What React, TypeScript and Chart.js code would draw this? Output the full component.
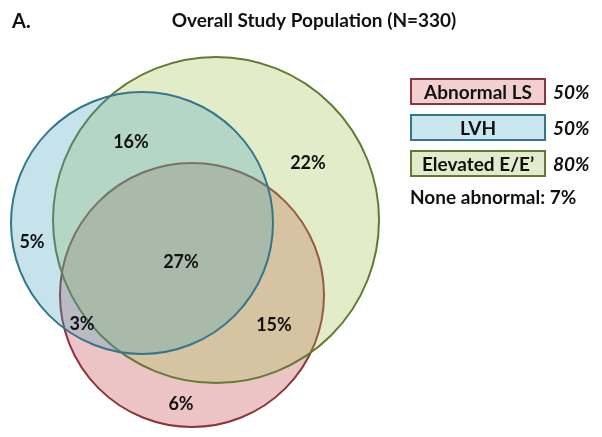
import React, { useEffect, useRef } from "react";
import { Chart, registerables } from "chart.js";

Chart.register(...registerables);

// ---- data (sets in drawing order: bottom to top) ----
const setNames = ["Abnormal LS", "Elevated E/E\u2019", "LVH"];
const setPercents = ["50%", "80%", "50%"];
const setCenterX = [192, 216, 142];
const setCenterY = [295, 220, 223];
const setRadius = [132, 163, 131];

const regionLabels = ["16%", "22%", "5%", "27%", "3%", "15%", "6%"];
const regionX = [131, 308, 32, 181, 82, 274, 181];
const regionY = [142, 163, 242, 262, 324, 325, 404];

const legendOrder = [0, 2, 1];
const noneLabel = "None abnormal: 7%";
const titleText = "Overall Study Population (N=330)";
const panelLabel = "A.";

const fills = ["rgb(237,196,198)", "rgba(162,192,75,0.3)", "rgba(65,162,192,0.3)"];
const borders = ["rgb(140,52,58)", "rgb(98,122,52)", "rgb(52,118,140)"];
const legendFills = ["rgb(243,208,208)", "rgb(226,236,204)", "rgb(202,231,240)"];

const FONT = "Lato, 'Open Sans', sans-serif";

export default function App() {
  const ref = useRef<HTMLCanvasElement | null>(null);

  useEffect(() => {
    if (!ref.current) return;
    const textPlugin = {
      id: "texts",
      afterDraw(chart: any) {
        const ctx = chart.ctx as CanvasRenderingContext2D;
        const xs = chart.scales.x;
        const ys = chart.scales.y;
        ctx.save();
        ctx.fillStyle = "#111";
        ctx.textBaseline = "middle";
        // title
        ctx.font = `bold 19px ${FONT}`;
        ctx.textAlign = "center";
        ctx.fillText(titleText, 314, 21);
        ctx.font = `bold 20px ${FONT}`;
        ctx.textAlign = "left";
        ctx.fillText(panelLabel, 12, 22);
        // region labels
        ctx.font = `bold 18px ${FONT}`;
        ctx.textAlign = "center";
        regionLabels.forEach((t, i) => {
          ctx.fillText(t, xs.getPixelForValue(regionX[i]), ys.getPixelForValue(regionY[i]));
        });
        // legend
        legendOrder.forEach((si, k) => {
          const top = 79 + k * 36;
          const left = 411, w = 134, h = 25;
          ctx.fillStyle = legendFills[si];
          ctx.fillRect(left, top, w, h);
          ctx.strokeStyle = borders[si];
          ctx.lineWidth = 2;
          ctx.strokeRect(left, top, w, h);
          ctx.fillStyle = "#111";
          ctx.font = `bold 19px ${FONT}`;
          ctx.textAlign = "center";
          ctx.fillText(setNames[si], left + w / 2, top + h / 2 + 1);
          ctx.font = `italic bold 19px ${FONT}`;
          ctx.textAlign = "left";
          ctx.fillText(setPercents[si], 553, top + h / 2 + 1);
        });
        ctx.font = `bold 19px ${FONT}`;
        ctx.textAlign = "left";
        ctx.fillText(noneLabel, 410, 198);
        ctx.restore();
      },
    };

    const chart = new Chart(ref.current, {
      type: "bubble",
      data: {
        datasets: [
          {
            data: setCenterX.map((x, i) => ({ x, y: setCenterY[i], r: setRadius[i] })),
            backgroundColor: fills,
            borderColor: borders,
            borderWidth: 2,
            clip: false,
            radius: (c: any) => {
              const xs = c.chart.scales.x;
              const raw = c.raw as any;
              if (!xs || !raw) return 0;
              return Math.abs(xs.getPixelForValue(raw.r) - xs.getPixelForValue(0));
            },
          } as any,
        ],
      },
      options: {
        animation: false,
        responsive: true,
        maintainAspectRatio: false,
        events: [],
        layout: { padding: 0, autoPadding: false },
        scales: {
          x: { type: "linear", min: 0, max: 602, display: false },
          y: { type: "linear", min: 0, max: 437, reverse: true, display: false },
        },
        plugins: {
          legend: { display: false },
          tooltip: { enabled: false },
          title: { display: false },
        },
      },
      plugins: [textPlugin],
    });
    return () => chart.destroy();
  }, []);

  return (
    <div style={{ position: "fixed", left: 0, top: 0, width: 602, height: 437, background: "#fff" }}>
      <canvas ref={ref} />
    </div>
  );
}
